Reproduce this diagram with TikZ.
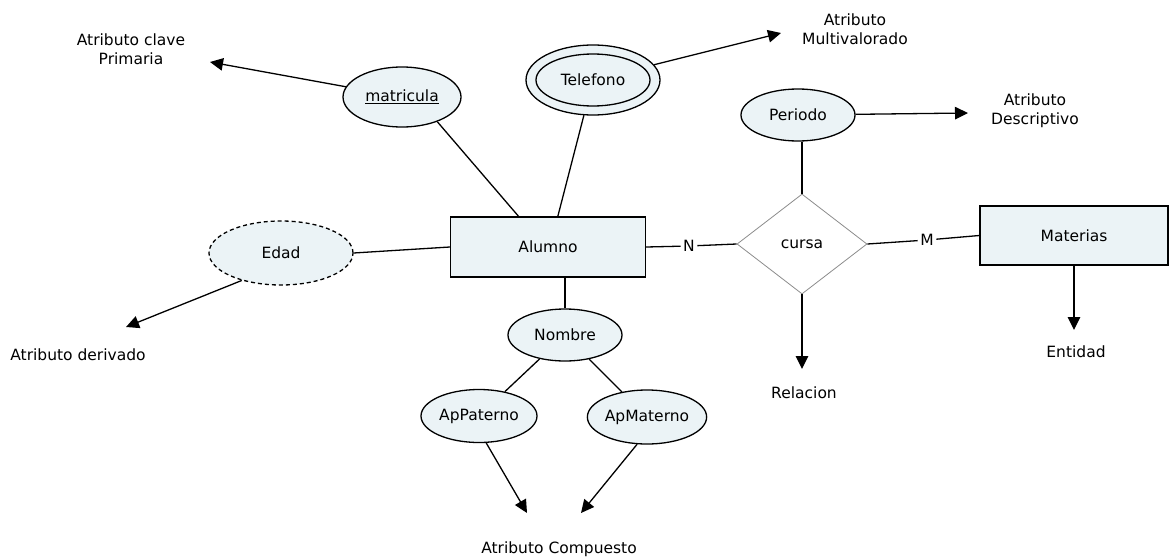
\documentclass[tikz,border=0pt]{standalone}
\usepackage{fontspec}
\setmainfont{DejaVu Sans}
\usetikzlibrary{shapes.geometric,arrows.meta,calc}
\definecolor{boxfill}{RGB}{235,243,246}
\definecolor{rimgray}{RGB}{140,140,140}
\begin{document}
\begin{tikzpicture}[x=1pt,y=-1pt,
  font=\fontsize{15.5pt}{19pt}\selectfont,
  every path/.style={line width=1.3pt},
  entity/.style={draw, fill=boxfill, rectangle, inner sep=0pt},
  attr/.style={draw, fill=boxfill, ellipse, inner sep=0pt},
  rel/.style={draw=rimgray, line width=0.8pt, fill=white, diamond, inner sep=0pt},
  note/.style={inner sep=0pt, align=center},
  card/.style={inner sep=2pt, fill=white},
  pointer/.style={-{Triangle[length=13pt,width=12.5pt]}},
]
\useasboundingbox (0,0) rectangle (1169,557);

% entities
\node[entity, minimum width=195pt, minimum height=60pt] (alumno) at (548,247) {Alumno};
\node[entity, minimum width=188pt, minimum height=59pt] (materias) at (1074,235.5) {Materias};

% relationship
\node[rel, minimum width=130pt, minimum height=100pt] (cursa) at (802,244) {cursa};

% attributes
\node[attr, minimum width=118pt, minimum height=60pt] (matricula) at (402,97) {\underline{matricula}};
\node[attr, minimum width=134pt, minimum height=70pt] (telefono) at (593,80) {};
\node[draw, ellipse, inner sep=0pt, minimum width=114pt, minimum height=52pt] (telefonoin) at (telefono.center) {Telefono};
\node[attr, minimum width=114pt, minimum height=52pt] (periodo) at (798,115) {Periodo};
\node[attr, dashed, dash pattern=on 4pt off 3pt, minimum width=144pt, minimum height=64pt] (edad) at (281,253) {Edad};
\node[attr, minimum width=114pt, minimum height=52pt] (nombre) at (565,335) {Nombre};
\node[attr, minimum width=116pt, minimum height=53pt] (appaterno) at (479,416) {ApPaterno};
\node[attr, minimum width=116pt, minimum height=54pt] (apmaterno) at (647,417) {ApMaterno};

% cardinalities
\node[card] (n) at (689,246) {N};
\node[card] (m) at (927,240) {M};

% explanatory notes
\node[note] (lblclave) at (131,49) {Atributo clave\\Primaria};
\node[note] (lblmulti) at (855,29) {Atributo\\Multivalorado};
\node[note] (lbldesc) at (1035,111) {Atributo\\Descriptivo};
\node[note] (lblderiv) at (78,355) {Atributo derivado};
\node[note] (lblrel) at (804,393) {Relacion};
\node[note] (lblent) at (1076,352) {Entidad};
\node[note] (lblcomp) at (559,549) {Atributo Compuesto};

% arrow tips next to the notes
\coordinate (tipclave) at (210,62);
\coordinate (tipmulti) at (781,33);
\coordinate (tipdesc) at (968,113);
\coordinate (tipderiv) at (126,327);
\coordinate (tiprel) at (802,369);
\coordinate (tipent) at (1074,330);
\coordinate (tipcompA) at (527,513);
\coordinate (tipcompB) at (581,513);

% ER connectors
\draw (matricula.-35) -- ($(alumno.north west)!0.35!(alumno.north east)$);
\draw (telefono) -- ($(alumno.north west)!0.55!(alumno.north east)$);
\draw (edad.east) -- (alumno.west);
\draw (nombre.north |- alumno.south) -- (nombre.north);
\draw (nombre) -- (appaterno);
\draw (nombre) -- (apmaterno);
\draw (alumno.east) -- (n) -- (cursa.west);
\draw (cursa.east) -- (m) -- (materias.west);
\draw (cursa.north |- periodo.south) -- (cursa.north);

% pointers to the notes
\draw[pointer] (matricula) -- (tipclave);
\draw[pointer] (telefono) -- (tipmulti);
\draw[pointer] (periodo) -- (tipdesc);
\draw[pointer] (edad.-145) -- (tipderiv);
\draw[pointer] (cursa.south) -- (tiprel);
\draw[pointer] (materias.south) -- (tipent);
\draw[pointer] (appaterno.-75) -- (tipcompA);
\draw[pointer] (apmaterno.-110) -- (tipcompB);
\end{tikzpicture}
\end{document}
